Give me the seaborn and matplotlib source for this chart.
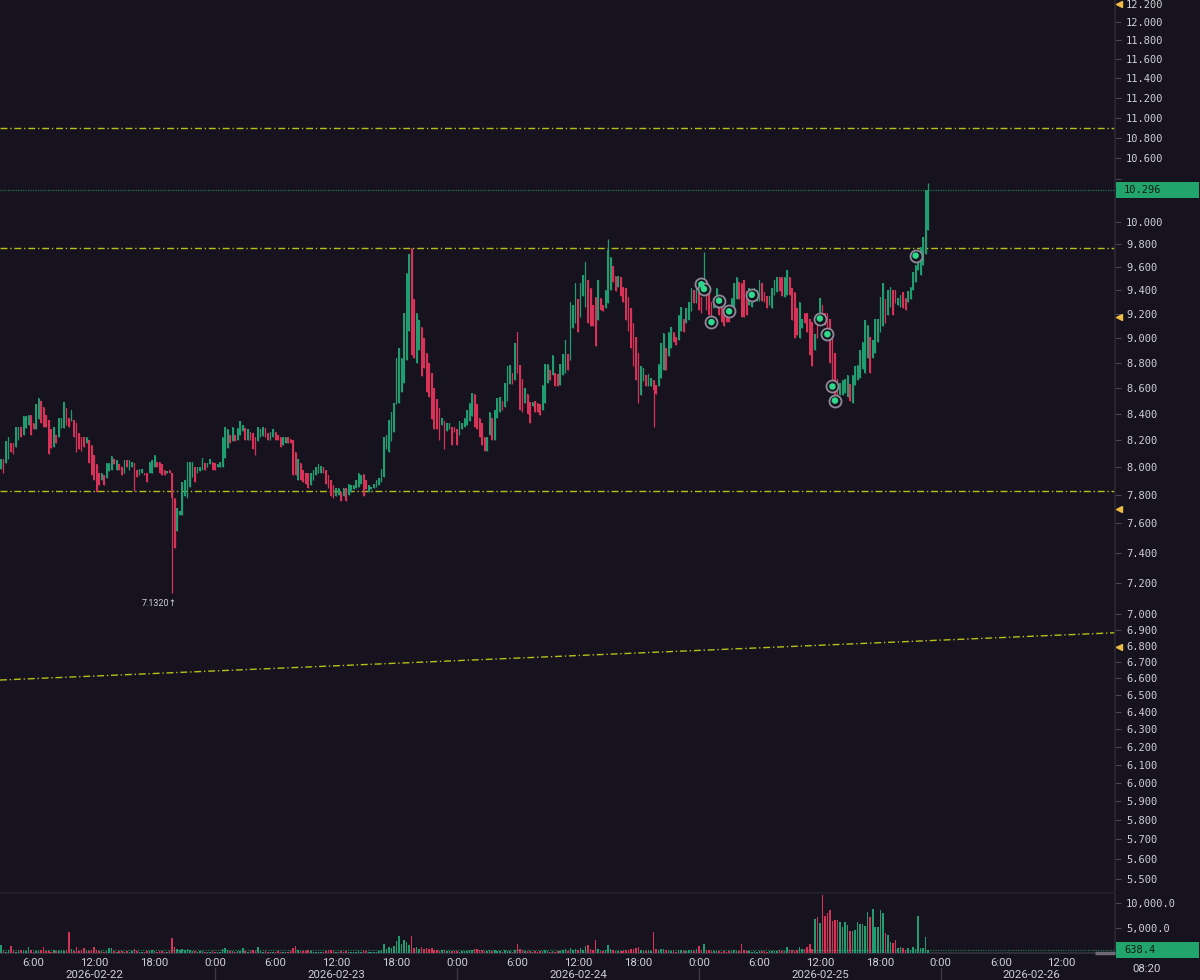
import numpy as np
import pandas as pd
import matplotlib
matplotlib.use("Agg")
import matplotlib.pyplot as plt
import matplotlib.dates as mdates
import matplotlib.transforms as mtransforms
import seaborn as sns

# ---------------- data (15-minute candles) ----------------
first_candle = "2026-02-22 02:15"

opens = [
    7.98, 8.03, 7.99, 8.06, 8.03, 8.06, 8.18, 8.18, 8.15, 8.20,
    8.30, 8.24, 8.29, 8.31, 8.39, 8.33, 8.28, 8.36, 8.50, 8.45,
    8.39, 8.35, 8.28, 8.15, 8.24, 8.22, 8.29, 8.29, 8.44, 8.37,
    8.34, 8.35, 8.33, 8.25, 8.22, 8.22, 8.18, 8.20, 8.16, 8.09,
    8.02, 7.96, 7.91, 7.94, 7.92, 7.97, 7.98, 8.06, 7.98, 8.02,
    8.00, 7.96, 8.05, 7.98, 8.00, 8.03, 7.98, 7.94, 7.96, 7.96,
    7.96, 7.96, 7.96, 8.00, 8.04, 8.04, 8.02, 7.98, 7.96, 7.98,
    7.96, 7.78, 7.55, 7.66, 7.66, 7.79, 7.78, 7.86, 7.93, 8.00,
    7.96, 7.97, 7.98, 8.03, 8.00, 8.02, 8.04, 8.03, 8.00, 8.00,
    8.00, 8.07, 8.14, 8.24, 8.19, 8.24, 8.20, 8.24, 8.27, 8.29,
    8.20, 8.26, 8.25, 8.22, 8.19, 8.22, 8.23, 8.29, 8.25, 8.20,
    8.22, 8.26, 8.24, 8.22, 8.16, 8.18, 8.22, 8.21, 8.20, 8.11,
    7.91, 8.03, 7.98, 7.96, 7.96, 7.87, 7.91, 7.94, 7.96, 7.96,
    8.00, 7.98, 7.94, 7.91, 7.87, 7.79, 7.80, 7.82, 7.79, 7.85,
    7.80, 7.82, 7.84, 7.85, 7.86, 7.88, 7.95, 7.91, 7.82, 7.84,
    7.85, 7.86, 7.87, 7.89, 7.93, 8.13, 8.11, 8.19, 8.26, 8.47,
    8.48, 8.57, 8.64, 8.82, 9.06, 9.77, 9.32, 8.80, 8.90, 9.09,
    9.00, 8.88, 8.80, 8.72, 8.60, 8.51, 8.44, 8.31, 8.34, 8.27,
    8.28, 8.30, 8.30, 8.28, 8.24, 8.28, 8.30, 8.31, 8.34, 8.38,
    8.55, 8.47, 8.37, 8.33, 8.22, 8.12, 8.24, 8.37, 8.20, 8.37,
    8.41, 8.50, 8.45, 8.50, 8.63, 8.72, 8.66, 9.05, 8.78, 8.67,
    8.48, 8.55, 8.49, 8.46, 8.50, 8.48, 8.47, 8.43, 8.48, 8.64,
    8.74, 8.70, 8.72, 8.71, 8.62, 8.70, 8.72, 8.87, 8.82, 9.08,
    9.12, 9.32, 9.17, 9.35, 9.26, 9.49, 9.42, 9.27, 9.34, 9.15,
    9.33, 9.27, 9.25, 9.29, 9.40, 9.61, 9.52, 9.43, 9.51, 9.43,
    9.42, 9.34, 9.25, 9.12, 9.01, 8.88, 8.54, 8.65, 8.70, 8.61,
    8.61, 8.66, 8.62, 8.61, 8.68, 8.74, 8.92, 8.85, 8.92, 9.05,
    9.01, 8.98, 9.06, 9.16, 9.12, 9.15, 9.22, 9.40, 9.29, 9.43,
    9.34, 9.38, 9.39, 9.42, 9.30, 9.25, 9.25, 9.30, 9.26, 9.19,
    9.21, 9.25, 9.19, 9.25, 9.32, 9.47, 9.46, 9.49, 9.39, 9.27,
    9.26, 9.34, 9.31, 9.31, 9.46, 9.38, 9.35, 9.27, 9.25, 9.36,
    9.38, 9.51, 9.51, 9.34, 9.36, 9.51, 9.42, 9.38, 9.25, 9.00,
    9.08, 9.21, 9.21, 9.16, 9.13, 8.90, 9.11, 9.13, 9.27, 9.21,
    9.21, 9.16, 9.00, 8.88, 8.67, 8.54, 8.54, 8.56, 8.53, 8.63,
    8.48, 8.62, 8.66, 8.68, 8.75, 8.72, 8.84, 9.01, 8.84, 8.88,
    8.97, 9.05, 9.10, 9.32, 9.19, 9.26, 9.40, 9.40, 9.27, 9.26,
    9.38, 9.33, 9.30, 9.32, 9.40, 9.47, 9.57, 9.53, 9.62, 9.71, 9.93,
]

closes = [
    7.88, 7.98, 8.06, 7.96, 8.19, 8.22, 8.11, 8.10, 8.30, 8.30,
    8.22, 8.38, 8.38, 8.39, 8.24, 8.28, 8.47, 8.52, 8.33, 8.30,
    8.30, 8.10, 8.14, 8.30, 8.18, 8.37, 8.37, 8.49, 8.31, 8.30,
    8.43, 8.22, 8.11, 8.13, 8.12, 8.15, 8.22, 8.03, 7.94, 7.91,
    7.82, 7.87, 7.96, 7.87, 8.03, 8.03, 8.08, 8.02, 8.05, 7.98,
    7.94, 8.05, 8.00, 8.05, 8.04, 7.97, 7.93, 7.99, 7.99, 7.94,
    7.89, 8.04, 8.05, 8.09, 8.00, 7.96, 7.94, 7.94, 7.97, 7.96,
    7.78, 7.43, 7.71, 7.69, 7.89, 7.91, 8.04, 8.04, 8.04, 7.89,
    8.00, 8.00, 8.07, 7.98, 8.03, 8.06, 7.98, 7.98, 8.02, 8.04,
    8.22, 8.30, 8.28, 8.18, 8.30, 8.19, 8.29, 8.34, 8.31, 8.20,
    8.28, 8.20, 8.13, 8.09, 8.30, 8.28, 8.30, 8.22, 8.20, 8.26,
    8.28, 8.20, 8.20, 8.15, 8.22, 8.22, 8.18, 8.18, 7.94, 7.94,
    8.06, 7.91, 7.89, 7.88, 7.85, 7.96, 7.98, 8.00, 8.02, 8.01,
    7.96, 7.88, 7.85, 7.79, 7.78, 7.85, 7.85, 7.76, 7.85, 7.76,
    7.88, 7.87, 7.87, 7.91, 7.96, 7.94, 7.79, 7.84, 7.87, 7.86,
    7.88, 7.91, 7.92, 7.99, 8.22, 8.24, 8.35, 8.41, 8.48, 8.84,
    8.92, 8.84, 9.21, 9.55, 9.71, 8.86, 8.84, 9.21, 9.15, 8.69,
    8.76, 8.57, 8.53, 8.36, 8.28, 8.28, 8.20, 8.37, 8.13, 8.33,
    8.33, 8.16, 8.26, 8.16, 8.34, 8.33, 8.37, 8.43, 8.48, 8.56,
    8.30, 8.28, 8.22, 8.16, 8.12, 8.22, 8.41, 8.20, 8.43, 8.52,
    8.53, 8.43, 8.64, 8.77, 8.78, 8.63, 8.96, 8.72, 8.43, 8.41,
    8.60, 8.40, 8.33, 8.49, 8.41, 8.41, 8.39, 8.62, 8.79, 8.79,
    8.66, 8.86, 8.61, 8.61, 8.79, 8.87, 8.98, 8.74, 9.30, 9.27,
    9.46, 9.05, 9.46, 9.53, 9.64, 9.12, 9.10, 9.10, 8.93, 9.49,
    9.23, 9.22, 9.40, 9.75, 9.69, 9.47, 9.39, 9.52, 9.35, 9.30,
    9.15, 9.06, 8.92, 8.77, 8.66, 8.48, 8.77, 8.76, 8.61, 8.71,
    8.68, 8.58, 8.55, 8.79, 8.96, 9.04, 8.74, 9.05, 9.09, 8.97,
    8.94, 9.19, 9.26, 9.05, 9.25, 9.30, 9.42, 9.29, 9.49, 9.23,
    9.21, 9.46, 9.23, 9.19, 9.11, 9.33, 9.42, 9.19, 9.13, 9.10,
    9.13, 9.13, 9.33, 9.46, 9.51, 9.32, 9.17, 9.17, 9.19, 9.42,
    9.40, 9.42, 9.40, 9.49, 9.31, 9.30, 9.25, 9.35, 9.42, 9.49,
    9.51, 9.39, 9.35, 9.51, 9.57, 9.36, 9.15, 9.00, 9.02, 9.30,
    9.16, 9.12, 9.05, 8.86, 8.77, 9.03, 9.00, 9.33, 9.13, 9.11,
    9.02, 8.80, 8.63, 8.49, 8.45, 8.64, 8.66, 8.67, 8.70, 8.50,
    8.70, 8.77, 8.78, 8.90, 8.97, 9.15, 9.11, 8.72, 8.98, 9.16,
    9.16, 9.34, 9.46, 9.12, 9.40, 9.43, 9.19, 9.29, 9.33, 9.36,
    9.25, 9.23, 9.39, 9.43, 9.56, 9.62, 9.69, 9.78, 9.87, 10.30, 10.296,
]

volumes = [
    900, 700, 1700, 400, 300, 600, 1500, 500, 300, 400, 700, 500, 400, 1300, 600, 300, 500, 400, 600, 1300,
    500, 400, 300, 600, 400, 500, 700, 400, 600, 4300, 800, 500, 1200, 400, 600, 1100, 500, 400, 600, 1300,
    700, 500, 400, 300, 500, 1000, 1000, 400, 300, 500, 400, 300, 400, 300, 500, 900, 400, 300, 200, 300,
    400, 500, 600, 400, 300, 400, 500, 300, 200, 400, 3000, 1200, 800, 600, 900, 700, 800, 600, 500, 400,
    300, 400, 500, 300, 200, 300, 400, 300, 200, 300, 900, 1100, 600, 400, 500, 300, 400, 500, 1000, 400,
    300, 400, 700, 500, 1300, 400, 300, 400, 300, 200, 300, 300, 400, 300, 200, 300, 300, 400, 1100, 1500,
    600, 500, 400, 500, 600, 400, 300, 300, 200, 300, 300, 500, 600, 700, 500, 300, 300, 400, 300, 400,
    300, 300, 200, 300, 400, 300, 700, 400, 300, 200, 300, 300, 400, 600, 1800, 900, 1200, 1000, 1400, 2400,
    3500, 1800, 2700, 2200, 1600, 3500, 1000, 1300, 900, 1200, 800, 1000, 900, 1100, 700, 600, 500, 600, 700, 400,
    500, 400, 500, 400, 300, 400, 500, 400, 600, 700, 800, 900, 700, 600, 500, 400, 600, 500, 700, 500,
    400, 300, 600, 500, 400, 300, 700, 1800, 900, 600, 400, 500, 400, 300, 400, 300, 400, 500, 700, 400,
    300, 400, 300, 400, 500, 600, 800, 500, 1000, 700, 900, 600, 1100, 600, 1400, 1700, 800, 700, 2700, 900,
    500, 400, 600, 1600, 900, 600, 500, 400, 500, 400, 600, 700, 800, 900, 1000, 1300, 700, 500, 400, 600,
    500, 4300, 900, 700, 800, 900, 600, 700, 500, 400, 300, 600, 700, 500, 400, 600, 700, 500, 800, 1500,
    600, 1800, 700, 600, 500, 400, 500, 400, 300, 400, 300, 400, 500, 600, 400, 500, 1800, 600, 500, 400,
    300, 400, 300, 400, 500, 400, 300, 400, 500, 400, 500, 600, 400, 500, 1300, 600, 700, 500, 600, 1300,
    800, 900, 1300, 1800, 900, 6800, 7300, 6100, 11700, 7500, 8000, 8700, 6500, 6600, 6600, 6300, 5300, 6300, 5600, 4500,
    4500, 4700, 6300, 5900, 5900, 5500, 8200, 7300, 8800, 5300, 5300, 8600, 8000, 4000, 3700, 2300, 2100, 2700, 1000, 1300,
    1000, 700, 1000, 600, 1300, 800, 7500, 1000, 1000, 3200, 638.4,
]

wick_highs = {243: 9.85, 281: 9.73, 370: 10.36}
wick_lows = {55: 7.83, 70: 7.132, 261: 8.30}

level_lines = [10.90, 9.77, 7.83]
trend_prices = [6.59, 6.88]
alert_levels = [12.2, 9.17, 7.70, 6.79]

fill_times = ["2026-02-25 00:15", "2026-02-25 00:30", "2026-02-25 01:15", "2026-02-25 02:00",
              "2026-02-25 03:00", "2026-02-25 05:15", "2026-02-25 12:00", "2026-02-25 12:45",
              "2026-02-25 13:15", "2026-02-25 13:30", "2026-02-25 21:30"]
fill_prices = [9.45, 9.41, 9.13, 9.31, 9.22, 9.36, 9.16, 9.03, 8.61, 8.50, 9.70]

price_ticks = [5.5, 5.6, 5.7, 5.8, 5.9, 6.0, 6.1, 6.2, 6.3, 6.4, 6.5, 6.6, 6.7, 6.8, 6.9,
               7.0, 7.2, 7.4, 7.6, 7.8, 8.0, 8.2, 8.4, 8.6, 8.8, 9.0, 9.2, 9.4, 9.6, 9.8,
               10.0, 10.4, 10.6, 10.8, 11.0, 11.2, 11.4, 11.6, 11.8, 12.0, 12.2]
unlabeled_ticks = [10.4]
volume_ticks = [5000, 10000]
view_start, view_end = "2026-02-22 02:40", "2026-02-26 17:17"
price_range = (5.428, 12.243)
volume_range = (0, 12000)
date_labels = ["2026-02-22", "2026-02-23", "2026-02-24", "2026-02-25", "2026-02-26"]
date_label_times = ["2026-02-22 12:00", "2026-02-23 12:00", "2026-02-24 12:00",
                    "2026-02-25 12:00", "2026-02-26 09:00"]
time_tick_start, time_tick_end = "2026-02-22 06:00", "2026-02-26 12:00"
low_note = "7.1320\u2191"
clock_text = "08:20"

# ---------------- style ----------------
BG = "#16131e"
GREEN = "#1f9d70"
RED = "#d93258"
YELLOW = "#b6bf17"
TXT = "#cfcfd6"
GRID = "#2a2733"
TAG = "#22a56c"

sns.set_theme(style="dark", rc={
    "axes.facecolor": BG, "figure.facecolor": BG, "savefig.facecolor": BG,
    "axes.edgecolor": GRID, "axes.grid": False,
    "xtick.color": TXT, "ytick.color": TXT, "text.color": TXT,
})
plt.rcParams["font.family"] = ["DejaVu Sans Mono", "DejaVu Sans"]

fig = plt.figure(figsize=(12, 9.8), dpi=100)
ax = fig.add_axes([0, 1 - 893 / 980, 1115 / 1200, 893 / 980])
axv = fig.add_axes([0, 1 - 953 / 980, 1115 / 1200, 60 / 980], sharex=ax)

o = np.array(opens, float)
c = np.array(closes, float)
n = len(c)
t = mdates.date2num(pd.date_range(first_candle, periods=n, freq="15min"))
step = 15 / 1440.0
up = c >= o
cols = np.where(up, GREEN, RED)
hi = np.maximum(o, c)
lo = np.minimum(o, c)
for k, v in wick_highs.items():
    hi[k] = v
for k, v in wick_lows.items():
    lo[k] = v

# candles
ax.vlines(t, lo, hi, colors=cols, lw=0.9, zorder=3)
body_lo = np.minimum(o, c)
body_h = np.maximum(np.abs(c - o), 0.004)
ax.bar(t, body_h, bottom=body_lo, width=0.62 * step, color=cols, linewidth=0, zorder=3)

ax.set_yscale("log")
ax.set_ylim(*price_range)
x0 = mdates.date2num(pd.Timestamp(view_start))
x1 = mdates.date2num(pd.Timestamp(view_end))
ax.set_xlim(x0, x1)

# level lines
dashdot = (0, (5, 2, 1, 2))
for lvl in level_lines:
    ax.axhline(lvl, color=YELLOW, lw=1.0, ls=dashdot, zorder=2)
trend_df = pd.DataFrame({"t": [x0, x1], "p": trend_prices})
sns.lineplot(data=trend_df, x="t", y="p", ax=ax, color=YELLOW, lw=1.0, zorder=2)
ax.lines[-1].set_linestyle(dashdot)
ax.axhline(c[-1], color="#1e7a52", lw=0.9, ls=(0, (1, 1)), zorder=2)

# trade fill markers
fills = pd.DataFrame({"t": mdates.date2num(pd.to_datetime(fill_times)), "p": fill_prices})
sns.scatterplot(data=fills, x="t", y="p", ax=ax, s=75, facecolor=BG,
                edgecolor="#8e8a98", linewidth=1.3, zorder=5)
sns.scatterplot(data=fills, x="t", y="p", ax=ax, s=22, color="#2fd98c",
                edgecolor="none", linewidth=0, zorder=6)

# low annotation
ax.annotate(low_note, xy=(t[70], lo[70]), xytext=(5, -10), textcoords="offset pixels",
            ha="right", va="center", fontsize=6.5, color=TXT,
            family=["Roboto", "DejaVu Sans"])

# right price axis
ax.yaxis.tick_right()
ax.yaxis.set_major_locator(matplotlib.ticker.FixedLocator(price_ticks))
ax.yaxis.set_minor_locator(matplotlib.ticker.NullLocator())
ax.set_yticklabels(["" if v in unlabeled_ticks else f"{v:.3f}" for v in price_ticks])
ax.tick_params(axis="y", which="major", length=4, width=0.8, color="#4a4655",
               pad=4, labelsize=7.5, labelcolor=TXT)
ax.tick_params(axis="x", which="both", bottom=False, labelbottom=False, length=0)
ax.set_xlabel("")
ax.set_ylabel("")
for side in ["left", "top", "bottom"]:
    ax.spines[side].set_visible(False)
ax.spines["right"].set_color(GRID)


def value_tag(axis, value, text):
    """Green tag on the right axis: a 16 px tall band with the value in it."""
    tr = mtransforms.blended_transform_factory(axis.transAxes, axis.transData)
    right = (1200 - 1) / 1115
    axis.plot([1.0008, right], [value, value], color=TAG, lw=16 * 72 / 100,
              solid_capstyle="butt", transform=tr, clip_on=False, zorder=8)
    axis.annotate(text, xy=(1, value), xycoords=("axes fraction", "data"),
                  xytext=(9, 0), textcoords="offset pixels", ha="left", va="center",
                  fontsize=7.5, color="#0d1a12", annotation_clip=False, zorder=9)


value_tag(ax, c[-1], f"{c[-1]:.3f}")

# alert triangles
btr = mtransforms.blended_transform_factory(ax.transAxes, ax.transData)
ax.plot([1.004] * len(alert_levels), alert_levels, ls="none", marker="<", ms=4,
        color="#efbd45", transform=btr, clip_on=False, zorder=7)

# volume panel
v = np.array(volumes, float)
axv.bar(t, v, width=0.62 * step, color=cols, linewidth=0, zorder=3)
axv.axhline(v[-1], color="#1e7a52", lw=0.9, ls=(0, (1, 1)), zorder=2)
axv.set_ylim(*volume_range)
axv.yaxis.tick_right()
axv.set_yticks(volume_ticks)
axv.set_yticklabels([f"{x:,.1f}" for x in volume_ticks])
axv.tick_params(axis="y", length=4, width=0.8, color="#4a4655", pad=4,
                labelsize=7.5, labelcolor=TXT)
axv.tick_params(axis="x", which="both", bottom=False, labelbottom=False, length=0)
axv.set_xlabel("")
axv.set_ylabel("")
axv.spines["left"].set_visible(False)
axv.spines["top"].set_color("#24212c")
axv.spines["right"].set_color(GRID)
axv.spines["bottom"].set_color("#35323f")
value_tag(axv, v[-1], f"{v[-1]:.1f}")
# scroll handle at the bottom right
vtr = mtransforms.blended_transform_factory(axv.transAxes, axv.transAxes)
axv.plot([1095 / 1115, 1.0], [0, 0], color="#6d6a75", lw=2.5, transform=vtr,
         clip_on=False, solid_capstyle="butt", zorder=4)

# time axis labels
ttr = mtransforms.blended_transform_factory(axv.transData, fig.transFigure)
for ts in pd.date_range(time_tick_start, time_tick_end, freq="6h"):
    fig.text(mdates.date2num(ts), 1 - 963 / 980, f"{ts.hour}:00", transform=ttr,
             ha="center", va="center", fontsize=8.2, color=TXT, family=["Roboto"])
    if ts.hour == 0:
        fig.add_artist(matplotlib.lines.Line2D([mdates.date2num(ts)] * 2,
                                               [0, 1 - 968 / 980], transform=ttr,
                                               color="#3b3846", lw=1))
for lab, ts in zip(date_labels, date_label_times):
    fig.text(mdates.date2num(pd.Timestamp(ts)), 1 - 975 / 980, lab, transform=ttr,
             ha="center", va="center", fontsize=8.2, color=TXT, family=["Roboto"])
fig.text(1147 / 1200, 1 - 969 / 980, clock_text, ha="center", va="center",
         fontsize=8.2, color=TXT, family=["Roboto"])

fig.savefig("out.png", dpi=100, facecolor=BG)
